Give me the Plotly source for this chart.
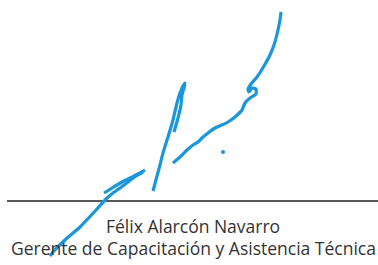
import plotly.graph_objects as go

# Signature strokes (image-space coordinates)
stroke_top_x = [281, 280, 278, 275, 270, 264, 257, 251, 248, 249, 252, 256, 256, 250, 245, 242, 235, 228, 222, 215, 208, 202, 198, 193, 187, 180, 173]
stroke_top_y = [12, 20, 30, 42, 55, 66, 77, 84, 89, 92, 88, 89, 94, 98, 103, 110, 117, 122, 125, 128, 133, 138, 142, 145, 150, 157, 163]

stroke_loop_x = [153, 157, 160, 163, 168, 173, 177, 180, 183, 185, 184, 182, 181, 178, 174]
stroke_loop_y = [191, 176, 165, 153, 137, 120, 103, 93, 86, 83, 88, 95, 105, 118, 132]

stroke_short_x = [104, 112, 122, 132, 140, 145]
stroke_short_y = [193, 188, 182, 177, 173, 170]

stroke_long_x = [143, 136, 128, 120, 113, 106, 97, 80, 65, 53, 50]
stroke_long_y = [172, 176, 182, 188, 193, 199, 209, 227, 240, 252, 256]

dot_x = [223]
dot_y = [152]

rule_x = [7, 378]
rule_y = [201, 201]

name_text = "Félix Alarcón Navarro"
title_text = "Gerente de Capacitación y Asistencia Técnica"
name_pos = (193, 226)
title_pos = (193, 248)

BLUE = "#1a96dc"

fig = go.Figure()
fig.add_trace(go.Scatter(x=rule_x, y=rule_y, mode="lines",
                         line=dict(color="#222222", width=1.6), hoverinfo="skip"))
for sx, sy in [(stroke_top_x, stroke_top_y), (stroke_loop_x, stroke_loop_y),
               (stroke_short_x, stroke_short_y), (stroke_long_x, stroke_long_y)]:
    fig.add_trace(go.Scatter(x=sx, y=sy, mode="lines",
                             line=dict(color=BLUE, width=3.2, shape="spline", smoothing=0.5),
                             hoverinfo="skip"))
fig.add_trace(go.Scatter(x=dot_x, y=dot_y, mode="markers",
                         marker=dict(color=BLUE, size=4), hoverinfo="skip"))

for txt, (tx, ty) in [(name_text, name_pos), (title_text, title_pos)]:
    fig.add_annotation(x=tx, y=ty, text=txt, showarrow=False, xanchor="center", yanchor="middle",
                       font=dict(family="Open Sans", size=17.5, color="#333333"))

fig.update_layout(width=378, height=265, margin=dict(l=0, r=0, t=0, b=0),
                  paper_bgcolor="white", plot_bgcolor="white", showlegend=False,
                  xaxis=dict(range=[0, 378], visible=False, fixedrange=True),
                  yaxis=dict(range=[265, 0], visible=False, fixedrange=True))
fig.write_html("out.html", config={"displayModeBar": False},
               post_script="document.body.style.margin='0px';document.body.style.overflow='hidden';")
